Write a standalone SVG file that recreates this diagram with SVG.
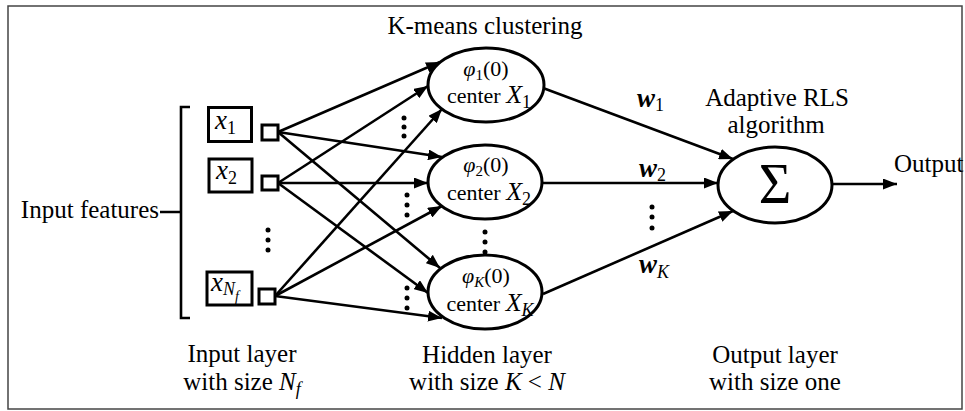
<svg xmlns="http://www.w3.org/2000/svg" width="965" height="411" viewBox="0 0 965 411">
<style>
  text { font-family: "Liberation Serif", "Times New Roman", serif; fill: #000; }
  .lbl { font-size: 25px; }
  .in { font-size: 22px; }
  .it { font-style: italic; }
  .w { font-style: italic; font-weight: bold; }
  .node { fill: #fff; stroke: #000; stroke-width: 3; }
  .box { fill: #fff; stroke: #000; stroke-width: 3; }
  .edge { stroke: #000; stroke-width: 2.6; fill: none; }
  .arr { marker-end: url(#ah); }
  .dot { fill: #000; }
</style>
<defs>
  <marker id="ah" markerUnits="userSpaceOnUse" markerWidth="15" markerHeight="11" refX="14" refY="5.5" orient="auto">
    <path d="M0,0 L14,5.5 L0,11 z" fill="#000"/>
  </marker>
</defs>
<rect x="0" y="0" width="965" height="411" fill="#fff"/>
<rect x="8" y="6" width="954" height="403" fill="#fff" stroke="#444" stroke-width="1.5"/>

<g id="connectors">
  <line class="edge arr" x1="278" y1="132" x2="440" y2="62"/>
  <line class="edge arr" x1="278" y1="132" x2="442" y2="157"/>
  <line class="edge arr" x1="278" y1="132" x2="440" y2="268"/>
  <line class="edge arr" x1="278" y1="183" x2="428" y2="86"/>
  <line class="edge arr" x1="278" y1="183" x2="428" y2="183"/>
  <line class="edge arr" x1="278" y1="183" x2="428" y2="293"/>
  <line class="edge arr" x1="275" y1="296" x2="442" y2="109"/>
  <line class="edge arr" x1="275" y1="296" x2="442" y2="206"/>
  <line class="edge arr" x1="275" y1="296" x2="442" y2="318"/>
  <line class="edge arr" x1="543" y1="88" x2="733" y2="159"/>
  <line class="edge arr" x1="542" y1="183" x2="718" y2="183"/>
  <line class="edge arr" x1="543" y1="294" x2="733" y2="211"/>
  <line class="edge arr" x1="833" y1="184" x2="897" y2="184"/>
  <path class="edge" stroke-width="3" d="M190,107 L181,107 L181,318 L190,318 M160,212 L181,212"/>
</g>

<g id="input-x1">
  <rect class="box" x="208.5" y="107.5" width="43" height="34"/>
  <text x="215" y="129" font-size="27"><tspan class="it">x</tspan><tspan font-size="18" dy="5">1</tspan></text>
  <rect class="box" x="262" y="125" width="16" height="15"/>
</g>
<g id="input-x2">
  <rect class="box" x="209" y="159" width="43" height="33"/>
  <text x="216" y="179" font-size="27"><tspan class="it">x</tspan><tspan font-size="18" dy="5">2</tspan></text>
  <rect class="box" x="262" y="176" width="16" height="14"/>
</g>
<g id="input-xNf">
  <rect class="box" x="207" y="272" width="45" height="33"/>
  <text x="211" y="291" font-size="27"><tspan class="it">x</tspan><tspan class="it" font-size="18" dy="4">N</tspan><tspan class="it" font-size="14" dy="6">f</tspan></text>
  <rect class="box" x="259" y="289" width="16" height="15"/>
</g>
<g id="input-dots">
  <circle class="dot" cx="268" cy="230" r="2.5"/>
  <circle class="dot" cx="268" cy="240" r="2.5"/>
  <circle class="dot" cx="268" cy="250" r="2.5"/>
</g>

<g id="hidden-1">
  <ellipse class="node" cx="486" cy="85" rx="58" ry="37"/>
  <text class="in" x="486" y="76" text-anchor="middle"><tspan class="it">φ</tspan><tspan font-size="15" dy="4">1</tspan><tspan dy="-4">(0)</tspan></text>
  <text class="in" x="489" y="103" text-anchor="middle">center <tspan class="it" font-size="26">X</tspan><tspan font-size="18" dy="5">1</tspan></text>
</g>
<g id="hidden-2">
  <ellipse class="node" cx="485" cy="182" rx="57" ry="37"/>
  <text class="in" x="486" y="172" text-anchor="middle"><tspan class="it">φ</tspan><tspan font-size="15" dy="4">2</tspan><tspan dy="-4">(0)</tspan></text>
  <text class="in" x="489" y="200" text-anchor="middle">center <tspan class="it" font-size="26">X</tspan><tspan font-size="18" dy="5">2</tspan></text>
</g>
<g id="hidden-K">
  <ellipse class="node" cx="485" cy="292" rx="57" ry="37"/>
  <text class="in" x="486" y="283" text-anchor="middle"><tspan class="it">φ</tspan><tspan class="it" font-size="15" dy="4">K</tspan><tspan dy="-4">(0)</tspan></text>
  <text class="in" x="490" y="311" text-anchor="middle">center <tspan class="it" font-size="26">X</tspan><tspan class="it" font-size="18" dy="5">K</tspan></text>
</g>
<g id="hidden-dots">
  <circle class="dot" cx="404" cy="118" r="2.5"/>
  <circle class="dot" cx="404" cy="127" r="2.5"/>
  <circle class="dot" cx="404" cy="136" r="2.5"/>
  <circle class="dot" cx="407" cy="195" r="2.5"/>
  <circle class="dot" cx="407" cy="205" r="2.5"/>
  <circle class="dot" cx="407" cy="215" r="2.5"/>
  <circle class="dot" cx="407" cy="288" r="2.5"/>
  <circle class="dot" cx="407" cy="298" r="2.5"/>
  <circle class="dot" cx="407" cy="308" r="2.5"/>
  <circle class="dot" cx="485" cy="232" r="2.5"/>
  <circle class="dot" cx="485" cy="242" r="2.5"/>
  <circle class="dot" cx="485" cy="252" r="2.5"/>
</g>

<g id="sum">
  <ellipse class="node" cx="775" cy="185" rx="57" ry="38"/>
  <text x="775" y="203" font-size="56" text-anchor="middle">Σ</text>
</g>
<g id="weights">
  <text x="637" y="107" font-size="27"><tspan class="w">w</tspan><tspan font-size="18" dy="4">1</tspan></text>
  <text x="639" y="177" font-size="27"><tspan class="w">w</tspan><tspan font-size="18" dy="4">2</tspan></text>
  <text x="639" y="273" font-size="27"><tspan class="w">w</tspan><tspan class="it" font-size="18" dy="5">K</tspan></text>
  <circle class="dot" cx="652" cy="207" r="2.5"/>
  <circle class="dot" cx="652" cy="217" r="2.5"/>
  <circle class="dot" cx="652" cy="228" r="2.5"/>
</g>

<g id="labels">
  <text class="lbl" x="485" y="34" text-anchor="middle">K-means clustering</text>
  <text class="lbl" x="777" y="106" text-anchor="middle">Adaptive RLS</text>
  <text class="lbl" x="776" y="133" text-anchor="middle">algorithm</text>
  <text class="lbl" x="894" y="172">Output</text>
  <text class="lbl" x="159" y="218" text-anchor="end">Input features</text>
  <text class="lbl" x="242" y="362" text-anchor="middle">Input layer</text>
  <text class="lbl" x="242" y="390" text-anchor="middle">with size <tspan class="it">N</tspan><tspan class="it" font-size="18" dy="5">f</tspan></text>
  <text class="lbl" x="487" y="363" text-anchor="middle">Hidden layer</text>
  <text class="lbl" x="487" y="390" text-anchor="middle">with size <tspan class="it">K</tspan> &lt; <tspan class="it">N</tspan></text>
  <text class="lbl" x="775" y="363" text-anchor="middle">Output layer</text>
  <text class="lbl" x="775" y="390" text-anchor="middle">with size one</text>
</g>
</svg>
